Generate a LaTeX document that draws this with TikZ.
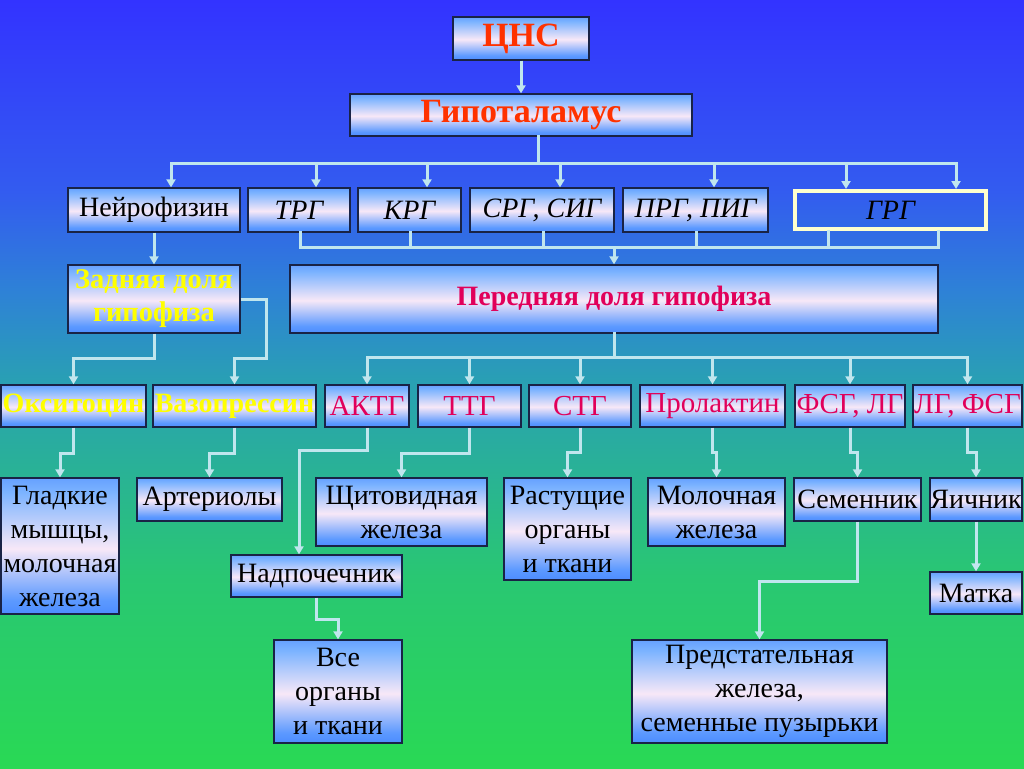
\documentclass[tikz,border=0pt]{standalone}
\usepackage{fontspec}
\setmainfont{Liberation Serif}
\usetikzlibrary{arrows.meta}
\definecolor{boxline}{RGB}{25,35,70}
\definecolor{conn}{RGB}{192,230,238}
\definecolor{redt}{RGB}{255,50,0}
\definecolor{crim}{RGB}{225,0,90}
\definecolor{yel}{RGB}{255,255,0}
\definecolor{grgline}{RGB}{255,255,205}
\pgfdeclareverticalshading{boxshade}{100bp}{rgb(0bp)=(0.30,0.55,1.0); rgb(25bp)=(0.30,0.55,1.0); rgb(30bp)=(0.36,0.60,1.0); rgb(49bp)=(0.97,0.91,0.97); rgb(70bp)=(0.48,0.70,1.0); rgb(75bp)=(0.40,0.63,1.0); rgb(100bp)=(0.40,0.63,1.0)}
\pgfdeclareverticalshading{bgshade}{100bp}{rgb(0bp)=(0.16,0.85,0.33); rgb(25bp)=(0.16,0.85,0.33); rgb(37.5bp)=(0.16,0.78,0.45); rgb(50bp)=(0.16,0.63,0.70); rgb(56bp)=(0.18,0.51,0.84); rgb(62.5bp)=(0.20,0.36,0.94); rgb(75bp)=(0.20,0.20,1.0); rgb(100bp)=(0.20,0.20,1.0)}
\begin{document}
\begin{tikzpicture}[x=1pt,y=-1pt,
  box/.style={draw=boxline, line width=1.3pt, shade, shading=boxshade, inner sep=0pt, align=center, text=black, font=\fontsize{28}{34}\selectfont},
  line/.style={draw=conn, line width=3pt, line cap=rect, line join=miter},
  arr/.style={draw=conn, line width=3pt, line join=miter, -{Triangle[width=9pt,length=8pt]}},
  red/.style={text=redt, font=\fontsize{34}{40}\selectfont\bfseries},
  hrm/.style={text=crim, font=\fontsize{29}{34}\selectfont},
  yelb/.style={text=yel, font=\fontsize{28}{33}\selectfont\bfseries},
  ital/.style={font=\fontsize{28}{34}\selectfont\itshape},
]
\useasboundingbox (0,0) rectangle (1024,768);
\shade[shading=bgshade] (0,0) rectangle (1024,768);

% top
\node[box, red, minimum width=136pt, minimum height=43pt] (cns) at (521,38.5) {ЦНС};
\node[box, red, minimum width=342pt, minimum height=42pt] (hyp) at (521,115) {Гипоталамус};

% row 2
\node[box, minimum width=172pt, minimum height=44pt] (neuro) at (154,210) {Нейрофизин};
\node[box, ital, minimum width=102pt, minimum height=44pt] (trg) at (299,210) {ТРГ};
\node[box, ital, minimum width=103pt, minimum height=44pt] (krg) at (409.5,210) {КРГ};
\node[box, ital, minimum width=144pt, minimum height=44pt] (srg) at (542,210) {СРГ, СИГ};
\node[box, ital, minimum width=145pt, minimum height=44pt] (prg) at (695.5,210) {ПРГ, ПИГ};
\node[draw=grgline, line width=4pt, inner sep=0pt, ital, minimum width=191pt, minimum height=38pt] (grg) at (890.5,210) {ГРГ};

% lobes
\node[box, yelb, font=\fontsize{28.5}{33}\selectfont\bfseries, minimum width=172pt, minimum height=68pt] (zad) at (154,299) {Задняя доля\\гипофиза};
\node[box, text=crim, font=\fontsize{28}{34}\selectfont\bfseries, minimum width=648pt, minimum height=68pt] (pered) at (614,299) {Передняя доля гипофиза};

% row 3
\node[box, yelb, minimum width=145pt, minimum height=42pt] (oxy) at (73.5,406) {Окситоцин};
\node[box, yelb, minimum width=163pt, minimum height=42pt] (vaso) at (234.5,406) {Вазопрессин};
\node[box, hrm, minimum width=84pt, minimum height=42pt] (akth) at (367,406) {АКТГ};
\node[box, hrm, minimum width=103pt, minimum height=42pt] (ttg) at (469.5,406) {ТТГ};
\node[box, hrm, minimum width=102pt, minimum height=42pt] (stg) at (580,406) {СТГ};
\node[box, hrm, minimum width=145pt, minimum height=42pt] (prol) at (712.5,406) {Пролактин};
\node[box, hrm, minimum width=110pt, minimum height=42pt] (fsg) at (850,406) {ФСГ, ЛГ};
\node[box, hrm, minimum width=109pt, minimum height=42pt] (lg) at (967.5,406) {ЛГ, ФСГ};

% row 4
\node[box, minimum width=118pt, minimum height=136pt] (glad) at (60,546) {Гладкие\\мышцы,\\молочная\\железа};
\node[box, minimum width=145pt, minimum height=43pt] (art) at (209.5,499.5) {Артериолы};
\node[box, minimum width=171pt, minimum height=68pt] (shch) at (401.5,512) {Щитовидная\\железа};
\node[box, minimum width=127pt, minimum height=102pt] (rast) at (567.5,529) {Растущие\\органы\\и ткани};
\node[box, minimum width=137pt, minimum height=68pt] (mol) at (716.5,512) {Молочная\\железа};
\node[box, minimum width=127pt, minimum height=43pt] (sem) at (857.5,499.5) {Семенник};
\node[box, minimum width=92pt, minimum height=43pt] (yaich) at (976,499.5) {Яичник};
\node[box, minimum width=171pt, minimum height=42pt] (nadp) at (316.5,576) {Надпочечник};
\node[box, minimum width=92pt, minimum height=42pt] (matka) at (976,593) {Матка};
\node[box, minimum width=128pt, minimum height=103pt] (vse) at (338,691.5) {Все\\органы\\и ткани};
\node[box, minimum width=255pt, minimum height=103pt] (pred) at (759.5,691.5) {Предстательная\\железа,\\семенные пузырьки};

% connectors: top
\draw[arr] (cns) -- (hyp);
\coordinate (h0) at (538,163);
\draw[line] (hyp.south -| h0) -- (h0);
\draw[line] (171,163) -- (956,163);
\foreach \x/\n in {171/neuro,316/trg,427/krg,560/srg,714/prg,846/grg,956/grg}
  \draw[arr] (\x,163) -- (\x,163 |- \n.north);

% row 2 to anterior lobe
\draw[line] (300,247) -- (938,247);
\foreach \x/\n in {300/trg,410/krg,543/srg,696/prg,828/grg,938/grg}
  \draw[line] (\x,247) -- (\x,247 |- \n.south);
\coordinate (p0) at (614,247);
\draw[arr] (p0) -- (pered.north -| p0);

% posterior lobe
\draw[arr] (neuro) -- (zad);
\draw[arr] (zad.south) -- (zad.south |- 0,358) -| (oxy.north);
\draw[arr] (zad.east) -- (266,299) -- (266,358) -| (vaso.north);

% anterior lobe to hormones
\draw[line] (pered.south) -- (pered.south |- 0,357);
\draw[line] (akth.north |- 0,357) -- (lg.north |- 0,357);
\foreach \n in {akth,ttg,stg,prol,fsg,lg}
  \draw[arr] (\n.north |- 0,357) -- (\n.north);

% hormones to targets
\draw[arr] (oxy.south) -- (oxy.south |- 0,453) -| (glad.north);
\draw[arr] (vaso.south) -- (vaso.south |- 0,453) -| (art.north);
\draw[arr] (akth.south) -- (akth.south |- 0,450) -- (299,450) -- (nadp.north -| 299,0);
\draw[arr] (ttg.south) -- (ttg.south |- 0,453) -| (shch.north);
\draw[arr] (stg.south) -- (stg.south |- 0,452) -| (rast.north);
\draw[arr] (prol.south) -- (prol.south |- 0,452) -| (mol.north);
\draw[arr] (fsg.south) -- (fsg.south |- 0,452) -| (sem.north);
\draw[arr] (lg.south) -- (lg.south |- 0,452) -| (yaich.north);
\draw[arr] (sem.south) -- (sem.south |- 0,581) -| (pred.north);
\draw[arr] (yaich) -- (matka);
\draw[arr] (nadp.south) -- (nadp.south |- 0,619) -| (vse.north);
\end{tikzpicture}
\end{document}
